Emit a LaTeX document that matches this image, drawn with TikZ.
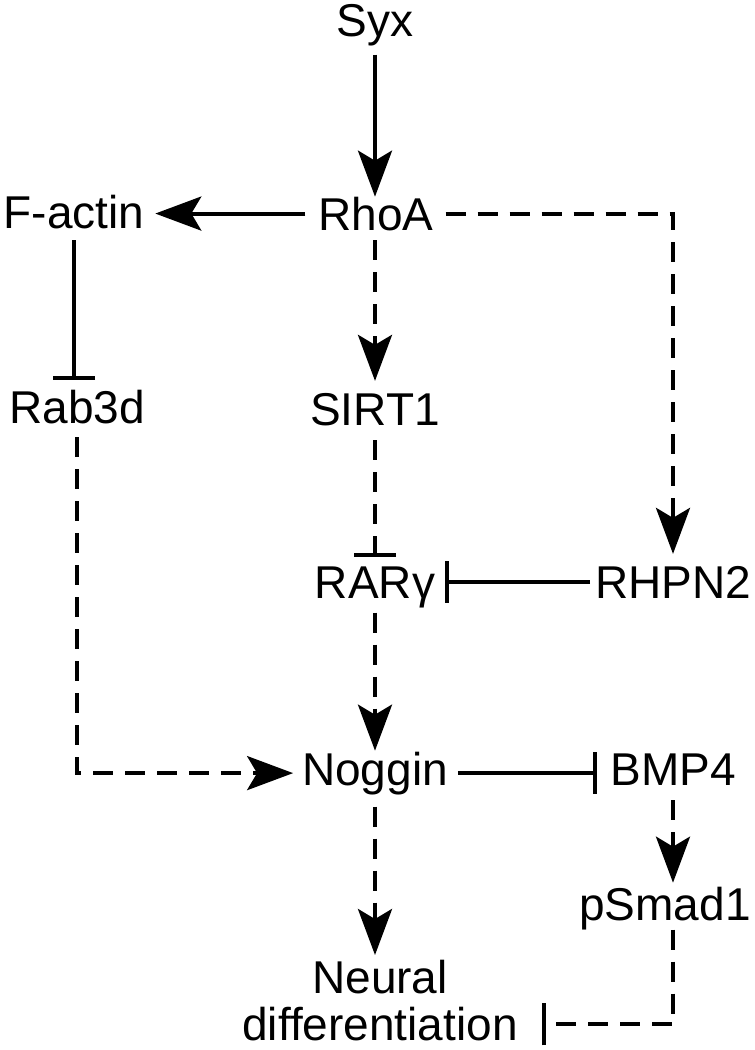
\documentclass[tikz,border=0pt]{standalone}
\usepackage{fontspec}
\setmainfont{Liberation Sans}
\usetikzlibrary{arrows.meta,calc}
\tikzset{
  lbl/.style={inner sep=0pt, outer sep=0pt, font=\fontsize{46}{47}\selectfont, anchor=base},
  link/.style={line width=4pt},
  dsh/.style={line width=4pt, dash pattern=on 20pt off 12pt},
  act/.style={-{Stealth[length=46pt,width=34pt,inset=10pt]}},
  inh/.style={-{Bar[width=42pt]}},
}
\begin{document}
\begin{tikzpicture}[x=1pt,y=-1pt]
\useasboundingbox (0,0) rectangle (755,1050);
% nodes
\node[lbl] (syx) at (375,36) {Syx};
\node[lbl] (rhoa) at (376,230) {RhoA};
\node[lbl] (factin) at (74,228) {F-actin};
\node[lbl] (rab3d) at (77,423) {Rab3d};
\node[lbl] (sirt1) at (375,425) {SIRT1};
\node[lbl] (rar) at (375,598) {RARγ};
\node[lbl] (rhpn) at (673,598) {RHPN2};
\node[lbl] (noggin) at (375,785) {Noggin};
\node[lbl] (bmp) at (673,785) {BMP4};
\node[lbl] (psmad) at (665,920) {pSmad1};
\node[lbl, anchor=north, align=center] (neural) at (380,960) {Neural\\differentiation};
\coordinate (nd) at ($(neural.east)+(0,24)$);
% connectors
\draw[link,act,shorten <=9pt] (syx.south) -- (syx.south |- rhoa.north);
\draw[link,act,shorten <=13pt,shorten >=11pt] (rhoa.west) -- (rhoa.west -| factin.east);
\draw[dsh,act,shorten <=12pt,shorten >=12pt] (rhoa.east) -| (rhpn.north);
\draw[dsh,act,shorten <=10pt,shorten >=12pt] (sirt1.north |- rhoa.south) -- (sirt1.north);
\draw[link,inh,shorten <=12pt,shorten >=10pt] (factin.south) -- (factin.south |- rab3d.north);
\draw[dsh,act,shorten <=14pt,shorten >=9pt] (rab3d.south) |- (noggin.west);
\draw[dsh,inh,shorten <=15pt,shorten >=9pt] (sirt1.south) -- (rar.north);
\draw[link,inh,shorten <=5pt,shorten >=10pt] (rhpn.west) -- (rhpn.west -| rar.east);
\draw[dsh,act,shorten <=5pt,shorten >=1pt] (rar.south) -- (noggin.north);
\draw[link,inh,shorten <=10pt,shorten >=13pt] (noggin.east) -- (noggin.east -| bmp.west);
\draw[dsh,act,shorten <=15pt,shorten >=4pt] (bmp.south) -- (bmp.south |- psmad.north);
\draw[dsh,act,shorten <=12pt,shorten >=5pt] (noggin.south) -- (noggin.south |- neural.north);
\draw[dsh,inh,shorten >=24pt] (bmp.south |- psmad.south) |- (nd);
\end{tikzpicture}
\end{document}
